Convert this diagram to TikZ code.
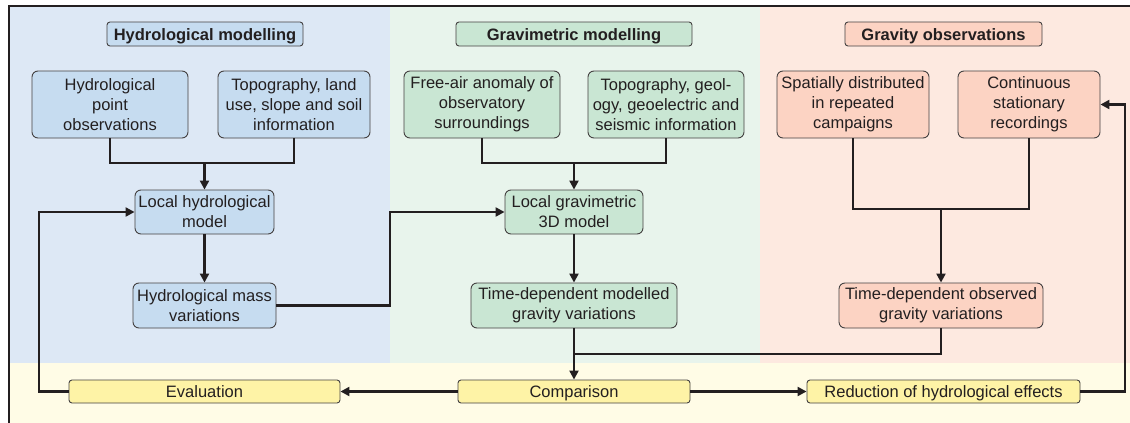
\documentclass[tikz,border=0pt]{standalone}
\usepackage{fontspec}
\setmainfont{Liberation Sans}
\usetikzlibrary{arrows.meta}
\definecolor{bluebg}{HTML}{DDE8F5}
\definecolor{bluebox}{HTML}{C6DCF0}
\definecolor{greenbg}{HTML}{E8F4EC}
\definecolor{greenbox}{HTML}{C9E6D3}
\definecolor{pinkbg}{HTML}{FDE9E0}
\definecolor{pinkbox}{HTML}{FCD3C3}
\definecolor{yellowbg}{HTML}{FFFCE6}
\definecolor{yellowbox}{HTML}{FEF3A6}
\definecolor{ink}{HTML}{231F20}
\tikzset{
  box/.style={draw=ink!85, line width=0.9pt, rounded corners=6pt, align=center, inner sep=0pt,
    font=\fontsize{16.5}{20}\selectfont, text=ink},
  titlebox/.style={box, rounded corners=3pt, minimum height=24pt, text height=12pt, text depth=0pt,
    font=\fontsize{16.5}{20}\selectfont\bfseries},
  ybox/.style={box, fill=yellowbox, rounded corners=3pt, minimum height=23pt, text height=12pt, text depth=0pt},
  conn/.style={draw=ink, line width=2.2pt},
  arr/.style={conn, -{Triangle[length=9pt,width=9pt]}},
}
\begin{document}
\begin{tikzpicture}[x=1pt,y=-1pt]
\useasboundingbox (0,0) rectangle (1130,423);
% backgrounds
\fill[bluebg] (9,6) rectangle (390,363);
\fill[greenbg] (390,6) rectangle (760,363);
\fill[pinkbg] (760,6) rectangle (1130,363);
\fill[yellowbg] (9,363) rectangle (1130,423);
\draw[ink, line width=1.2pt] (9,423) -- (9,6) -- (1130,6);
% titles
\node[titlebox, fill=bluebox, minimum width=196pt] (th) at (205,34) {Hydrological modelling};
\node[titlebox, fill=greenbox, minimum width=236pt] (tg) at (574,34) {Gravimetric modelling};
\node[titlebox, fill=pinkbox, minimum width=197pt] (to) at (943.5,34) {Gravity observations};
% top boxes
\node[box, fill=bluebox, minimum width=156pt, minimum height=67pt] (hpo) at (110,104.5) {Hydrological\\point\\observations};
\node[box, fill=bluebox, minimum width=152pt, minimum height=67pt] (htop) at (294,104.5) {Topography, land\\use, slope and soil\\information};
\node[box, fill=greenbox, minimum width=156pt, minimum height=67pt] (gfa) at (482,104.5) {Free-air anomaly of\\observatory\\surroundings};
\node[box, fill=greenbox, minimum width=156pt, minimum height=67pt] (gtop) at (666,104.5) {Topography, geol-\\ogy, geoelectric and\\seismic information};
\node[box, fill=pinkbox, minimum width=152pt, minimum height=67pt] (osp) at (853,104.5) {Spatially distributed\\in repeated\\campaigns};
\node[box, fill=pinkbox, minimum width=142pt, minimum height=67pt] (ocont) at (1029,104.5) {Continuous\\stationary\\recordings};
% middle boxes
\node[box, fill=bluebox, minimum width=139pt, minimum height=44pt] (hloc) at (204.5,212) {Local hydrological\\model};
\node[box, fill=bluebox, minimum width=143pt, minimum height=45pt] (hmass) at (204.5,305.5) {Hydrological mass\\variations};
\node[box, fill=greenbox, minimum width=138pt, minimum height=44pt] (gloc) at (574,212) {Local gravimetric\\3D model};
\node[box, fill=greenbox, minimum width=206pt, minimum height=45pt] (gmod) at (574,305.5) {Time-dependent modelled\\gravity variations};
\node[box, fill=pinkbox, minimum width=204pt, minimum height=45pt] (oobs) at (941,305.5) {Time-dependent observed\\gravity variations};
% bottom boxes
\node[ybox, minimum width=232pt] (comp) at (574,391.5) {Comparison};
\node[ybox, minimum width=271pt] (eval) at (204.5,391.5) {Evaluation};
\node[ybox, minimum width=273pt] (red) at (943.5,391.5) {Reduction of hydrological effects};
% junction coordinates
\coordinate (hj) at (204.5,163);
\coordinate (gj) at (574,163);
\coordinate (oj) at (941,209);
\coordinate (hg) at (390,305.5);
\coordinate (cj) at (574,354);
\coordinate (ej) at (39,391.5);
\coordinate (rj) at (1125,391.5);
% connectors
\draw[conn] (hpo.south) |- (hj) -| (htop.south);
\draw[arr] (hj) -- (hloc.north);
\draw[conn] (gfa.south) |- (gj) -| (gtop.south);
\draw[arr] (gj) -- (gloc.north);
\draw[conn] (osp.south) |- (oj) -| (ocont.south);
\draw[arr] (oj) -- (oobs.north);
\draw[arr] (hloc.south) -- (hmass.north);
\draw[arr] (gloc.south) -- (gmod.north);
\draw[arr] (hmass.east) -- (hg) |- (gloc.west);
\draw[arr] (gmod.south) -- (comp.north);
\draw[conn] (oobs.south) |- (cj);
\draw[arr] (comp.west) -- (eval.east);
\draw[arr] (comp.east) -- (red.west);
\draw[arr] (eval.west) -- (ej) |- (hloc.west);
\draw[arr] (red.east) -- (rj) |- (ocont.east);
\end{tikzpicture}
\end{document}
